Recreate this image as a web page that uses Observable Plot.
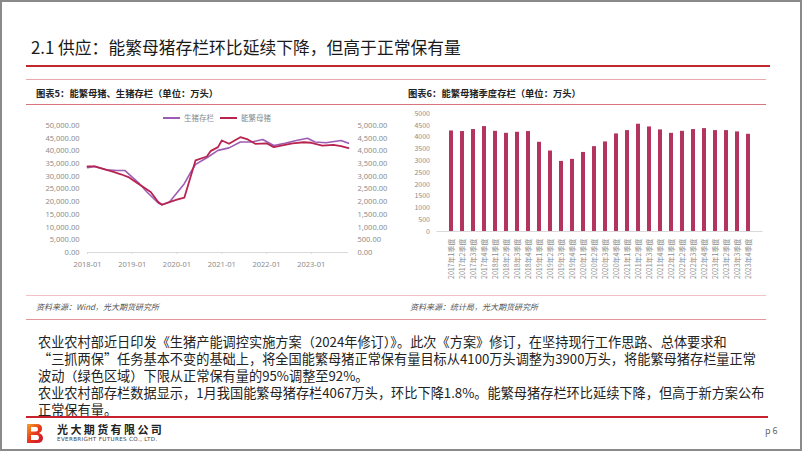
<!DOCTYPE html>
<html>
<head>
<meta charset="utf-8">
<script src="https://cdn.jsdelivr.net/npm/d3@7"></script>
<script src="https://cdn.jsdelivr.net/npm/@observablehq/plot@0.6"></script>
<style>
  html, body { margin: 0; padding: 0; background: #fff; }
  body { width: 802px; height: 451px; position: relative; overflow: hidden; font-family: "Noto Sans CJK SC", "Noto Sans", sans-serif; }
  .frame { position: absolute; left: 0; top: 0; width: 798px; height: 447px; border: 2px solid #8a8a8a; }
  .abs { position: absolute; white-space: nowrap; }
  .hline { position: absolute; }
  .title { left: 31px; top: 36px; font-size: 16.8px; line-height: 22px; color: #1a1a1a; }
  .ctitle { font-size: 9.3px; line-height: 12px; font-weight: 700; color: #222; top: 87px; }
  .src { font-size: 8px; line-height: 10px; font-style: italic; color: #555; top: 302px; }
  .body { left: 38px; top: 333px; font-size: 13.2px; color: #222; line-height: 17px; }
  .legend { font-size: 7.5px; line-height: 9px; color: #888; top: 113px; }
  .chart { position: absolute; }
</style>
</head>
<body>
<div class="frame"></div>
<div class="abs title">2.1 供应：能繁母猪存栏环比延续下降，但高于正常保有量</div>
<div class="hline" style="left:26px; top:65px; width:744px; height:2px; background:#c0282e;"></div>
<div class="hline" style="left:26px; top:79px; width:740px; height:1px; background:#e9a9ae;"></div>
<div class="abs ctitle" style="left:36px;">图表5：能繁母猪、生猪存栏（单位：万头）</div>
<div class="abs ctitle" style="left:408px;">图表6：能繁母猪季度存栏（单位：万头）</div>
<div class="hline" style="left:26px; top:104px; width:740px; height:1px; background:#d9737e;"></div>

<div class="hline" style="left:163px; top:117px; width:17px; height:1.6px; background:#9d5cb4;"></div>
<div class="abs legend" style="left:184px;">生猪存栏</div>
<div class="hline" style="left:220px; top:117px; width:17px; height:1.6px; background:#b8234f;"></div>
<div class="abs legend" style="left:241px;">能繁母猪</div>

<div id="left" class="chart" style="left:20px; top:110px;"></div>
<div id="right" class="chart" style="left:400px; top:105px;"></div>

<div class="hline" style="left:26px; top:295px; width:740px; height:1px; background:#f2c2c6;"></div>
<div class="abs src" style="left:36px;">资料来源：Wind，光大期货研究所</div>
<div class="abs src" style="left:410px;">资料来源：统计局，光大期货研究所</div>
<div class="hline" style="left:26px; top:319px; width:740px; height:1px; background:#e4959c;"></div>

<div class="abs body">农业农村部近日印发《生猪产能调控实施方案（2024年修订）》。此次《方案》修订，在坚持现行工作思路、总体要求和<br>“三抓两保”任务基本不变的基础上，将全国能繁母猪正常保有量目标从4100万头调整为3900万头，将能繁母猪存栏量正常<br>波动（绿色区域）下限从正常保有量的95%调整至92%。<br>农业农村部存栏数据显示，1月我国能繁母猪存栏4067万头，环比下降1.8%。能繁母猪存栏环比延续下降，但高于新方案公布<br>正常保有量。</div>
<div class="hline" style="left:26px; top:416px; width:742px; height:2px; background:#c8202c;"></div>

<svg class="abs" style="left:27px; top:424px;" width="16" height="19" viewBox="0 0 16 19">
  <defs><linearGradient id="lg" x1="0" y1="0" x2="1" y2="1"><stop offset="0" stop-color="#f5a623"/><stop offset="0.5" stop-color="#e8381b"/><stop offset="1" stop-color="#c8102e"/></linearGradient></defs>
  <path d="M0 0 H10 Q15 0 15 4.5 Q15 7.5 12 9 Q16 10.5 16 14 Q16 19 10 19 H0 Z M4 3 V7.5 H9 Q11 7.5 11 5.2 Q11 3 9 3 Z M4 11 V16 H10 Q12 16 12 13.5 Q12 11 10 11 Z" fill="url(#lg)" fill-rule="evenodd"/>
</svg>
<div class="abs" style="left:57px; top:424px; font-size:11px; line-height:11px; font-weight:700; color:#222; letter-spacing:2.4px;">光大期货有限公司</div>
<div class="abs" style="left:57px; top:436px; font-size:5.6px; line-height:6px; color:#444; letter-spacing:0.35px; font-family:'DejaVu Sans', sans-serif;">EVERBRIGHT FUTURES CO., LTD.</div>
<div class="abs" style="left:765px; top:425px; font-size:9px; line-height:11px; color:#666;">p 6</div>

<script>
// ---- Chart 5: monthly inventories (万头) ----
const hogMonths = ["2018-01","2018-03","2018-06","2018-09","2018-11","2019-01","2019-03","2019-05","2019-08","2019-09","2019-11","2020-03","2020-05","2020-06","2020-09","2020-12","2021-03","2021-06","2021-09","2021-12","2022-03","2022-06","2022-09","2022-12","2023-02","2023-05","2023-09","2023-11"];
const hogValues = [33400,33900,32600,32300,32300,29700,27100,23800,19500,18800,19900,27100,32300,34700,37300,40200,41200,43500,43500,44500,42100,43000,44100,45000,43500,43200,44100,43000];

const sowMonths = ["2018-01","2018-03","2018-08","2018-10","2018-12","2019-02","2019-04","2019-06","2019-08","2019-09","2019-12","2020-01","2020-03","2020-06","2020-09","2020-10","2020-12","2021-01","2021-03","2021-06","2021-08","2021-10","2022-01","2022-03","2022-05","2022-08","2022-11","2023-01","2023-04","2023-07","2023-09","2023-11"];
const sowValues = [3390,3390,3170,3080,2970,2770,2580,2380,1990,1880,2030,2080,2160,3630,3780,3990,4150,4410,4280,4540,4450,4280,4300,4150,4210,4300,4340,4320,4210,4240,4190,4110];

const leftTicks = [0,5000,10000,15000,20000,25000,30000,35000,40000,45000,50000];
const yearTicks = ["2018-01","2019-01","2020-01","2021-01","2022-01","2023-01"];

// ---- Chart 6: quarterly breeding sows (万头) ----
const quarters = ["2017年1季度","2017年2季度","2017年3季度","2017年4季度","2018年1季度","2018年2季度","2018年3季度","2018年4季度","2019年1季度","2019年2季度","2019年3季度","2019年4季度","2020年1季度","2020年2季度","2020年3季度","2020年4季度","2021年1季度","2021年2季度","2021年3季度","2021年4季度","2022年1季度","2022年2季度","2022年3季度","2022年4季度","2023年1季度","2023年2季度","2023年3季度","2023年4季度"];
const quarterValues = [4260,4235,4320,4445,4245,4160,4205,4235,3780,3410,2970,3055,3350,3595,3795,4135,4275,4545,4430,4305,4160,4245,4320,4360,4275,4275,4220,4120];
const barTicks = [0,500,1000,1500,2000,2500,3000,3500,4000,4500,5000];

const parse = d3.utcParse("%Y-%m");
const hog = hogMonths.map((m, i) => ({date: parse(m), value: hogValues[i]}));
const sow = sowMonths.map((m, i) => ({date: parse(m), value: sowValues[i]}));
const fmt2 = d3.format(",.2f");

const left = Plot.plot({
  width: 375, height: 170,
  marginLeft: 67, marginRight: 47, marginTop: 15, marginBottom: 28,
  style: {fontFamily: "'Noto Sans', 'DejaVu Sans', sans-serif", fontSize: "7.5px", color: "#8c8c8c", background: "transparent"},
  x: {type: "utc", domain: [parse("2018-01"), parse("2023-11")]},
  y: {domain: [0, 50000]},
  marks: [
    Plot.axisY({anchor: "left", ticks: leftTicks, tickFormat: fmt2, tickSize: 0, tickPadding: 8, label: null}),
    Plot.axisY({anchor: "right", ticks: leftTicks, tickFormat: d => fmt2(d / 10), tickSize: 0, tickPadding: 9, label: null}),
    Plot.ruleY([0], {stroke: "#d9d9d9"}),
    Plot.axisX({ticks: yearTicks.map(parse), tickFormat: d3.utcFormat("%Y-%m"), tickSize: 2, stroke: "#d9d9d9", tickPadding: 7, label: null}),
    Plot.line(hog, {x: "date", y: "value", stroke: "#9d5cb4", strokeWidth: 1.6}),
    Plot.line(sow, {x: "date", y: d => d.value * 10, stroke: "#b8234f", strokeWidth: 1.8})
  ]
});
document.getElementById("left").appendChild(left);

const bars = quarters.map((q, i) => ({q, v: quarterValues[i]}));
const right = Plot.plot({
  width: 370, height: 200,
  marginLeft: 36.5, marginRight: 7.5, marginTop: 8, marginBottom: 74,
  style: {fontFamily: "'Noto Sans CJK SC', sans-serif", fontSize: "7px", color: "#8c8c8c", background: "transparent"},
  x: {domain: quarters, padding: 0.6},
  y: {domain: [0, 5000]},
  marks: [
    Plot.axisY({ticks: barTicks, tickFormat: d => String(d), tickSize: 0, tickPadding: 7, label: null}),
    Plot.barY(bars, {x: "q", y: "v", fill: "#b2345f"}),
    Plot.ruleY([0], {stroke: "#d9d9d9"}),
    Plot.axisX({tickRotate: -90, tickSize: 0, tickPadding: 7, label: null})
  ]
});
document.getElementById("right").appendChild(right);
</script>
</body>
</html>
